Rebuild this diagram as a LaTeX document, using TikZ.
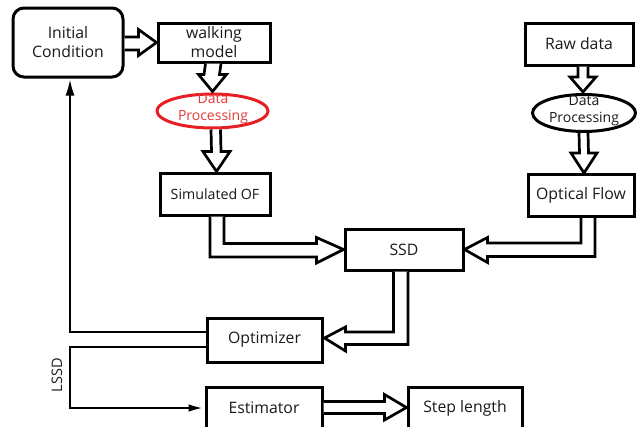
\documentclass[tikz,border=0pt]{standalone}
\usepackage{fontspec}
\setmainfont{Open Sans}
\usetikzlibrary{calc,shapes.geometric,arrows.meta}
\definecolor{ink}{HTML}{1A1A1A}
\definecolor{redline}{HTML}{E81E25}
\definecolor{redtext}{HTML}{E43A3A}
\tikzset{
  box/.style={draw=black, line width=3pt, fill=white, minimum width=#1, text=ink, align=center, inner sep=0pt},
  box/.default=112pt,
  bigtext/.style={font=\fontsize{15.8}{19}\selectfont},
  elltext/.style={font=\fontsize{14}{17}\selectfont, align=center, inner sep=0pt},
  hollow/.style={draw=black, line width=2.7pt, fill=white, line join=miter, miter limit=10},
  thin/.style={draw=black, line width=2.7pt, line join=miter},
}
\begin{document}
\begin{tikzpicture}[x=1pt, y=-1pt]
\useasboundingbox (0,0) rectangle (637,426);
\clip (0,0) rectangle (637,426);
\fill[white] (0,0) rectangle (637,426);

% nodes
\node[box=110pt, minimum height=69pt, rounded corners=11pt, bigtext] (init) at (68,42.5) {Initial\\Condition};
\node[box=112pt, minimum height=39pt, bigtext] (walk) at (214,42.5) {walking\\model};
\node[draw=redline, line width=3pt, ellipse, minimum width=111pt, minimum height=34pt, inner sep=0pt] (dp1) at (212.5,111) {};
\node[elltext, text=redtext] (dp1t) at (213,109) {Data\\Processing};
\node[box=110pt, minimum height=42pt, font=\fontsize{14.2}{16}\selectfont] (sim) at (215,194) {Simulated OF};

\node[box=108pt, minimum height=42pt, bigtext] (raw) at (579,44) {Raw data};
\node[draw=black, line width=3pt, ellipse, minimum width=103pt, minimum height=37pt, inner sep=0pt] (dp2) at (584,113) {};
\node[elltext, text=ink] (dp2t) at (584,111) {Data\\Processing};
\node[box=106pt, minimum height=42pt, bigtext] (of) at (581,195.5) {Optical Flow};

\node[box=118pt, minimum height=41pt, bigtext] (ssd) at (404,249.5) {SSD};
\node[box=115pt, minimum height=44pt, bigtext] (opt) at (264.5,340) {Optimizer};
\node[box=116pt, minimum height=42pt, bigtext] (est) at (264,408) {Estimator};
\node[box=114pt, minimum height=42pt, bigtext] (step) at (465,408) {Step length};

% hollow arrows
% init -> walk
\draw[hollow] ($(init.east)+(0,-5.5)$) -- ($(walk.west)+(-18,-5.5)$) -- ($(walk.west)+(-18,-13)$) -- (walk.west)
  -- ($(walk.west)+(-18,13)$) -- ($(walk.west)+(-18,7.5)$) -- ($(init.east)+(0,7.5)$);
% walk -> dp1
\coordinate (t1) at ($(dp1.north)+(0,-1)$);
\draw[hollow] ($(walk.south)+(-8.5,0)$) -- ($(t1)+(-8.5,-17)$) -- ($(t1)+(-14,-17)$) -- (t1)
  -- ($(t1)+(14,-17)$) -- ($(t1)+(7,-17)$) -- ($(walk.south)+(7,0)$);
% dp1 -> sim
\coordinate (t2) at ($(sim.north)+(1.5,0)$);
\draw[hollow] ($(dp1.south)+(-1.5,0)$) -- ($(t2)+(-5,-20)$) -- ($(t2)+(-13.5,-20)$) -- (t2)
  -- ($(t2)+(13.5,-20)$) -- ($(t2)+(4.5,-20)$) -- ($(dp1.south)+(8,0)$);
% raw -> dp2
\coordinate (t3) at ($(dp2.north)+(-1,-1)$);
\draw[hollow] ($(raw.south)+(-1,0)$) -- ($(t3)+(-5,-15)$) -- ($(t3)+(-13,-15)$) -- (t3)
  -- ($(t3)+(13,-15)$) -- ($(t3)+(5,-15)$) -- ($(raw.south)+(9,0)$);
% dp2 -> of
\coordinate (t4) at ($(of.north)+(3,0)$);
\draw[hollow] ($(dp2.south)+(-5,0)$) -- ($(t4)+(-4.5,-20)$) -- ($(t4)+(-13,-20)$) -- (t4)
  -- ($(t4)+(13,-20)$) -- ($(t4)+(4.5,-20)$) -- ($(dp2.south)+(4,0)$);
% sim -> ssd
\draw[hollow] (sim.south -| 210,0) -- (210,257) -- ($(ssd.west)+(-27,7.5)$) -- ($(ssd.west)+(-27,13.5)$) -- (ssd.west)
  -- ($(ssd.west)+(-27,-12)$) -- ($(ssd.west)+(-27,-6)$) -- (224,243.5) -- (sim.south -| 224,0);
% of -> ssd
\draw[hollow] (of.south -| 595,0) -- (595,256.5) -- ($(ssd.east)+(23,7)$) -- ($(ssd.east)+(23,13)$) -- (ssd.east)
  -- ($(ssd.east)+(23,-12)$) -- ($(ssd.east)+(23,-6.5)$) -- (581,243) -- (of.south -| 581,0);
% ssd -> opt
\coordinate (t5) at ($(opt.east)+(1,-2)$);
\draw[hollow] (ssd.south -| 408,0) -- (408,344.5) -- ($(t5)+(21,6.5)$) -- ($(t5)+(21,13)$) -- (t5)
  -- ($(t5)+(21,-11)$) -- ($(t5)+(21,-6)$) -- (393.5,332) -- (ssd.south -| 393.5,0);
% est -> step
\coordinate (t6) at ($(step.west)+(0,-0.5)$);
\draw[hollow] ($(est.east)+(0,-6.5)$) -- ($(t6)+(-22,-6)$) -- ($(t6)+(-22,-13)$) -- (t6)
  -- ($(t6)+(-22,12.5)$) -- ($(t6)+(-22,6)$) -- ($(est.east)+(0,5.5)$);

% thin connectors
\draw[thin, -{Latex[length=17pt,width=9pt]}] (opt.west |- 0,332) -- (70,332) -- (init.south -| 70,0);
\draw[thin, -{Latex[length=16pt,width=7.5pt]}] (opt.west |- 0,347) -- (70,347) -- (70,408) -- (est.west);
\node[rotate=90, text=ink, font=\fontsize{14.5}{16}\selectfont, inner sep=0pt] (lssd) at (57,375) {LSSD};
\end{tikzpicture}
\end{document}
